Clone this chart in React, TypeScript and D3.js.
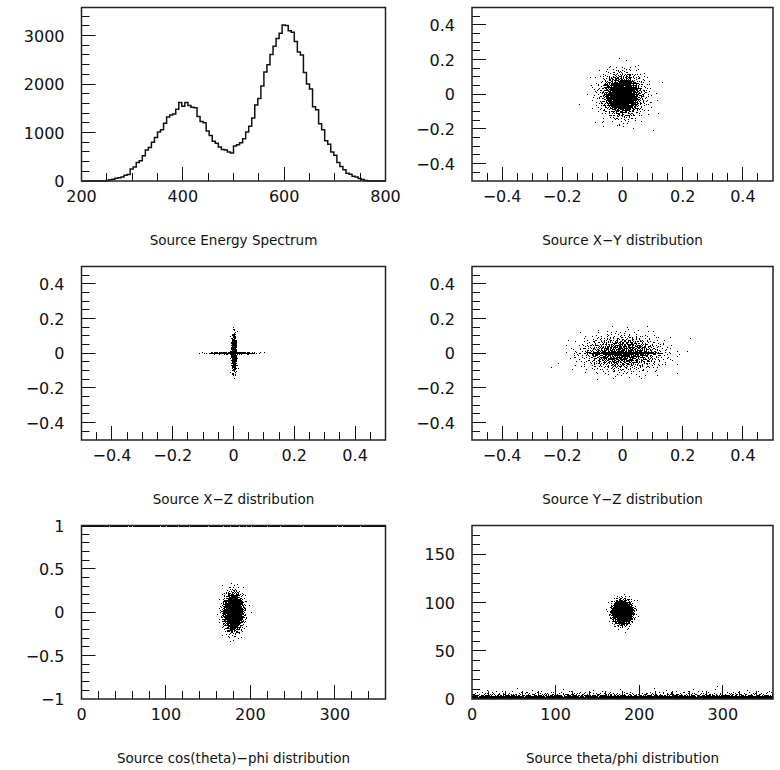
import React from "react";
import * as d3 from "d3";

// ---------- DATA ----------
// Energy spectrum: 100 bins of width 6 between 200 and 800
const energyRange = [200, 800];
const energyCounts = [
  0, 0, 0, 0, 0, 0, 0, 0, 10, 25,
  35, 55, 65, 80, 120, 135, 250, 290, 380, 420,
  520, 640, 690, 800, 900, 1010, 1060, 1190, 1320, 1360,
  1380, 1480, 1620, 1540, 1620, 1560, 1520, 1510, 1330, 1230,
  1200, 1030, 940, 820, 780, 700, 650, 640, 600, 580,
  720, 750, 790, 870, 1010, 1130, 1300, 1570, 1700, 1960,
  2250, 2400, 2610, 2780, 2940, 3050, 3220, 3210, 3100, 3070,
  2880, 2660, 2600, 2240, 2000, 1900, 1530, 1470, 1180, 1060,
  830, 760, 600, 530, 380, 300, 230, 160, 140, 100,
  80, 50, 30, 10, 0, 0, 0, 0, 0, 0,
];

// Scatter clouds: [centreX, centreY, spreadX, spreadY, points]
const xyClouds = [
  [0.0, -0.005, 0.026, 0.05, 1900],
  [0.0, -0.005, 0.04, 0.065, 900],
];
const xzClouds = [
  [0.002, 0.0, 0.004, 0.05, 700],
  [-0.005, 0.0, 0.035, 0.0025, 350],
];
const yzClouds = [
  [0.0, 0.0, 0.065, 0.05, 1400],
  [0.0, 0.0, 0.05, 0.003, 900],
];
const cosPhiClouds = [[180, 0.0, 5.5, 0.1, 2200]];
const cosPhiTopBand = [0, 360, 0.985, 1.0, 700]; // [x0, x1, y0, y1, n]
const thetaPhiClouds = [[180, 90, 5.5, 5.5, 2200]];
const thetaPhiBottomBand = [0, 360, 2.4, 4200]; // [x0, x1, decay, n]

// Axis tick definitions
const energyXMajor = [200, 400, 600, 800];
const energyYMajor = [0, 1000, 2000, 3000];
const posMajor = [-0.4, -0.2, 0, 0.2, 0.4];
const phiMajor = [0, 100, 200, 300];
const cosMajor = [-1, -0.5, 0, 0.5, 1];
const thetaMajor = [0, 50, 100, 150];

const titles = [
  "Source Energy Spectrum",
  "Source X\u2212Y distribution",
  "Source X\u2212Z distribution",
  "Source Y\u2212Z distribution",
  "Source cos(theta)\u2212phi distribution",
  "Source theta/phi distribution",
];

// ---------- LAYOUT ----------
const W = 780;
const H = 770;
const cols = [
  { x0: 81.5, x1: 385.5 },
  { x0: 472, x1: 773 },
];
const rowTop = 7.5;
const rowH = 173.5;
const rowStep = 259;
const FONT = "'DejaVu Sans', Verdana, sans-serif";
const INK = "#111";

function halton(i: number, b: number) {
  let f = 1;
  let r = 0;
  while (i > 0) {
    f /= b;
    r += f * (i % b);
    i = Math.floor(i / b);
  }
  return r;
}

function cloudPoints(clouds: number[][], seed: number) {
  const pts: [number, number][] = [];
  let off = seed;
  clouds.forEach(([cx, cy, sx, sy, n]) => {
    for (let i = 0; i < n; i++) {
      const k = off + i + 1;
      const u1 = Math.max(1e-6, halton(k, 2));
      const u2 = halton(k, 3);
      const r = Math.sqrt(-2 * Math.log(u1));
      pts.push([cx + sx * r * Math.cos(2 * Math.PI * u2), cy + sy * r * Math.sin(2 * Math.PI * u2)]);
    }
    off += n + 37;
  });
  return pts;
}

function fmt(v: number) {
  const s = String(Math.round(v * 1000) / 1000);
  return s.replace("-", "\u2212");
}

type PanelProps = {
  col: number;
  row: number;
  xDomain: number[];
  yDomain: number[];
  xMajor: number[];
  xMinorStep: number;
  yMajor: number[];
  yMinorStep: number;
  title: string;
  children?: (x: d3.ScaleLinear<number, number>, y: d3.ScaleLinear<number, number>) => React.ReactNode;
};

function range(d: number[], step: number) {
  const out: number[] = [];
  const n = Math.round((d[1] - d[0]) / step);
  for (let i = 1; i < n; i++) out.push(d[0] + i * step);
  return out;
}

function Panel({ col, row, xDomain, yDomain, xMajor, xMinorStep, yMajor, yMinorStep, title, children }: PanelProps) {
  const { x0, x1 } = cols[col];
  const y0 = rowTop + row * rowStep;
  const y1 = y0 + rowH;
  const x = d3.scaleLinear().domain(xDomain).range([x0, x1]);
  const y = d3.scaleLinear().domain(yDomain).range([y1, y0]);
  const isMajor = (v: number, arr: number[]) => arr.some((m) => Math.abs(m - v) < 1e-9);
  const xMinor = range(xDomain, xMinorStep).filter((v) => !isMajor(v, xMajor));
  const yMinor = range(yDomain, yMinorStep).filter((v) => !isMajor(v, yMajor));
  const snap = (v: number) => Math.round(v - 0.5) + 0.5;
  return (
    <g>
      {children && children(x, y)}
      {xMajor
        .filter((v) => v > xDomain[0] && v < xDomain[1])
        .map((v) => (
          <line key={"xM" + v} x1={snap(x(v))} x2={snap(x(v))} y1={y1} y2={y1 - 14} stroke={INK} strokeWidth={1} />
        ))}
      {xMinor.map((v) => (
        <line key={"xm" + v} x1={snap(x(v))} x2={snap(x(v))} y1={y1} y2={y1 - 8} stroke={INK} strokeWidth={1} />
      ))}
      {yMajor
        .filter((v) => v > yDomain[0] && v < yDomain[1])
        .map((v) => (
          <line key={"yM" + v} y1={snap(y(v))} y2={snap(y(v))} x1={x0} x2={x0 + 14} stroke={INK} strokeWidth={1} />
        ))}
      {yMinor.map((v) => (
        <line key={"ym" + v} y1={snap(y(v))} y2={snap(y(v))} x1={x0} x2={x0 + 8} stroke={INK} strokeWidth={1} />
      ))}
      <rect x={x0} y={y0} width={x1 - x0} height={y1 - y0} fill="none" stroke="#222" strokeWidth={1.5} />
      {xMajor.map((v) => (
        <text key={"xl" + v} x={x(v)} y={y1 + 21} textAnchor="middle" fontFamily={FONT} fontSize={16} fill={INK}>
          {fmt(v)}
        </text>
      ))}
      {yMajor.map((v) => (
        <text key={"yl" + v} x={x0 - 17} y={y(v) + 6} textAnchor="end" fontFamily={FONT} fontSize={16} fill={INK}>
          {fmt(v)}
        </text>
      ))}
      <text x={(x0 + x1) / 2} y={y1 + 64} textAnchor="middle" fontFamily={FONT} fontSize={13.5} fill={INK}>
        {title}
      </text>
    </g>
  );
}

function Dots({ pts, x, y }: { pts: [number, number][]; x: any; y: any }) {
  const d = pts
    .map(([a, b]) => {
      const px = Math.floor(x(a));
      const py = Math.floor(y(b));
      return `M${px},${py}h1v1h-1z`;
    })
    .join("");
  return <path d={d} fill="#000" shapeRendering="crispEdges" />;
}

export default function App() {
  const binW = (energyRange[1] - energyRange[0]) / energyCounts.length;
  const yMaxE = 3580;

  const xyPts = cloudPoints(xyClouds, 0);
  const xzPts = cloudPoints(xzClouds, 5000);
  const yzPts = cloudPoints(yzClouds, 9000);
  const cpPts = cloudPoints(cosPhiClouds, 13000);
  const [bx0, bx1, by0, by1, bn] = cosPhiTopBand;
  for (let i = 0; i < bn; i++) {
    cpPts.push([bx0 + (bx1 - bx0) * halton(i + 1, 2), by0 + (by1 - by0) * halton(i + 1, 3)]);
  }
  const tpPts = cloudPoints(thetaPhiClouds, 17000);
  const [tx0, tx1, tdec, tn] = thetaPhiBottomBand;
  for (let i = 0; i < tn; i++) {
    const u = Math.max(1e-6, halton(i + 101, 3));
    tpPts.push([tx0 + (tx1 - tx0) * halton(i + 101, 2), -tdec * Math.log(u) * 0.6]);
  }

  return (
    <svg width={W} height={H} style={{ position: "absolute", left: 0, top: 0, background: "#fff" }}>
      <rect x={0} y={0} width={W} height={H} fill="#fff" />
      <Panel
        col={0}
        row={0}
        xDomain={energyRange}
        yDomain={[0, yMaxE]}
        xMajor={energyXMajor}
        xMinorStep={50}
        yMajor={energyYMajor}
        yMinorStep={200}
        title={titles[0]}
      >
        {(x, y) => {
          let d = "";
          energyCounts.forEach((c, i) => {
            const a = energyRange[0] + i * binW;
            const b = a + binW;
            if (i === 0) d += `M${x(a)},${y(0)}`;
            d += `V${y(c)}H${x(b)}`;
          });
          d += `V${y(0)}`;
          return <path d={d} fill="none" stroke={INK} strokeWidth={1.5} />;
        }}
      </Panel>
      <Panel col={1} row={0} xDomain={[-0.5, 0.5]} yDomain={[-0.5, 0.5]} xMajor={posMajor} xMinorStep={0.05} yMajor={posMajor} yMinorStep={0.05} title={titles[1]}>
        {(x, y) => <Dots pts={xyPts} x={x} y={y} />}
      </Panel>
      <Panel col={0} row={1} xDomain={[-0.5, 0.5]} yDomain={[-0.5, 0.5]} xMajor={posMajor} xMinorStep={0.05} yMajor={posMajor} yMinorStep={0.05} title={titles[2]}>
        {(x, y) => <Dots pts={xzPts} x={x} y={y} />}
      </Panel>
      <Panel col={1} row={1} xDomain={[-0.5, 0.5]} yDomain={[-0.5, 0.5]} xMajor={posMajor} xMinorStep={0.05} yMajor={posMajor} yMinorStep={0.05} title={titles[3]}>
        {(x, y) => <Dots pts={yzPts} x={x} y={y} />}
      </Panel>
      <Panel col={0} row={2} xDomain={[0, 360]} yDomain={[-1, 1]} xMajor={phiMajor} xMinorStep={20} yMajor={cosMajor} yMinorStep={0.1} title={titles[4]}>
        {(x, y) => <Dots pts={cpPts} x={x} y={y} />}
      </Panel>
      <Panel col={1} row={2} xDomain={[0, 360]} yDomain={[0, 180]} xMajor={phiMajor} xMinorStep={20} yMajor={thetaMajor} yMinorStep={10} title={titles[5]}>
        {(x, y) => <Dots pts={tpPts} x={x} y={y} />}
      </Panel>
    </svg>
  );
}
